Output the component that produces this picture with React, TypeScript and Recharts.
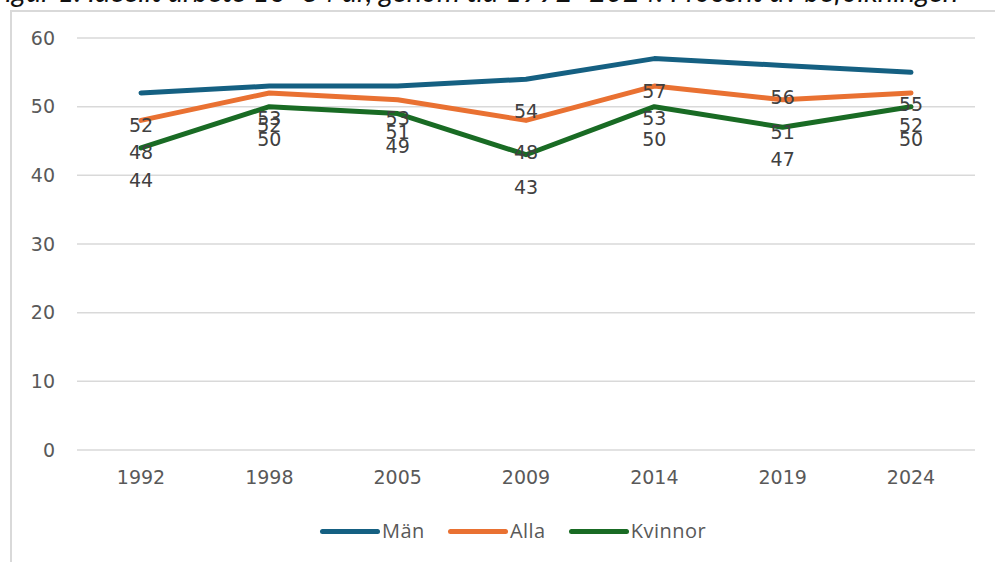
import React from "react";
import { LineChart, Line, XAxis, YAxis, CartesianGrid, LabelList } from "recharts";

const years = ["1992", "1998", "2005", "2009", "2014", "2019", "2024"];
const man = [52, 53, 53, 54, 57, 56, 55];
const alla = [48, 52, 51, 48, 53, 51, 52];
const kvinnor = [44, 50, 49, 43, 50, 47, 50];
const yTicks = [0, 10, 20, 30, 40, 50, 60];

const series = [
  { key: "man", name: "Män", color: "#156082" },
  { key: "alla", name: "Alla", color: "#E97132" },
  { key: "kvinnor", name: "Kvinnor", color: "#196B24" },
];

const data = years.map((y, i) => ({ year: y, man: man[i], alla: alla[i], kvinnor: kvinnor[i] }));

const FONT = "DejaVu Sans, Liberation Sans, sans-serif";

const BelowLabel = (props: any) => {
  const { x, y, value } = props;
  return (
    <text x={x} y={y + 32} textAnchor="middle" dominantBaseline="central" fontSize={19} fill="#404040" fontFamily={FONT}>
      {value}
    </text>
  );
};

export default function App() {
  return (
    <div style={{ position: "absolute", left: 0, top: 0, width: 995, height: 562, overflow: "hidden", background: "#fff" }}>
      <div style={{ position: "absolute", left: -10, top: -24, fontFamily: "Lato, sans-serif", fontStyle: "italic", fontSize: 29, lineHeight: 1, color: "#111", whiteSpace: "nowrap" }}>
        Figur 1. Ideellt arbete 16–84 år, genom tid 1992–2024. Procent av befolkningen
      </div>
      <div style={{ position: "absolute", left: 10, top: 10, width: 1000, height: 600, border: "2px solid #d9d9d9", boxSizing: "border-box" }} />
      <div style={{ position: "absolute", left: 0, top: 0 }}>
        <LineChart width={995} height={562} data={data} margin={{ top: 38, right: 20, bottom: 0, left: 0 }}>
          <CartesianGrid vertical={false} stroke="#d9d9d9" strokeWidth={1.5} />
          <XAxis
            dataKey="year"
            axisLine={false}
            tickLine={false}
            padding={{ left: 64, right: 64 }}
            tickMargin={15}
            height={112}
            tick={{ fontSize: 19, fill: "#595959", fontFamily: FONT }}
          />
          <YAxis
            width={77}
            domain={[0, 60]}
            ticks={yTicks}
            axisLine={false}
            tickLine={false}
            tickMargin={16}
            tick={{ fontSize: 19, fill: "#595959", fontFamily: FONT }}
          />
          {series.map((s) => (
            <Line key={s.key} dataKey={s.key} name={s.name} stroke={s.color} strokeWidth={5} dot={false} isAnimationActive={false} strokeLinejoin="round" strokeLinecap="round" />
          ))}
          {series.map((s) => (
            <Line key={s.key + "-lbl"} dataKey={s.key} stroke="none" dot={false} activeDot={false} legendType="none" isAnimationActive={false}>
              <LabelList dataKey={s.key} content={BelowLabel} />
            </Line>
          ))}
        </LineChart>
      </div>
      <div style={{ position: "absolute", top: 519, left: 320, display: "flex", fontFamily: "Open Sans, sans-serif", fontSize: 20, letterSpacing: 0.5, color: "#595959" }}>
        {series.map((s) => (
          <div key={s.key} style={{ display: "flex", alignItems: "center", marginRight: 23 }}>
            <div style={{ width: 60, height: 5, borderRadius: 3, background: s.color, marginRight: 2 }} />
            <span style={{ lineHeight: "24px" }}>{s.name}</span>
          </div>
        ))}
      </div>
    </div>
  );
}
